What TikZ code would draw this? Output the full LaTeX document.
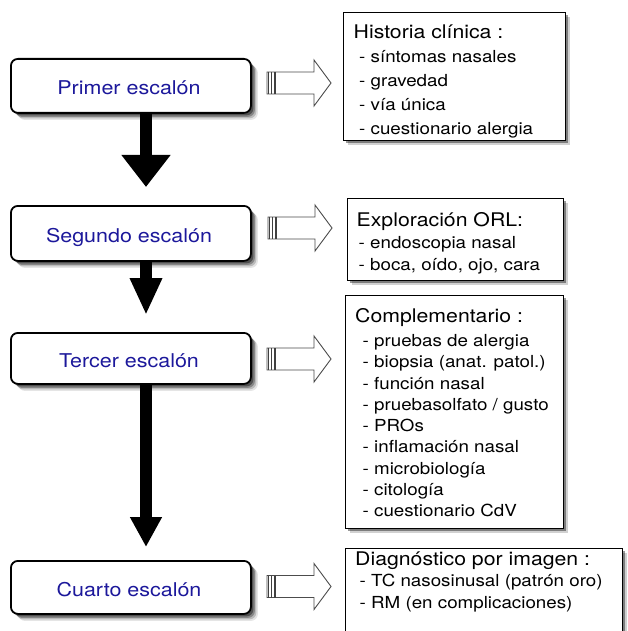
\documentclass[tikz,border=0pt]{standalone}
\usepackage{graphicx}
\usepackage{fontspec}
\setmainfont{TeX Gyre Heros}
\usetikzlibrary{arrows.meta,shadows}
\definecolor{stepblue}{RGB}{28,24,155}
\newcommand{\wx}[1]{\scalebox{1.13}[1]{#1}}
\newcommand{\hollowarrow}[1]{%
  \begin{scope}[shift={(#1)}]
    \draw[harrowline] (0,-11) -- (47,-11) -- (47,-23) -- (64,0) -- (47,23) -- (47,11) -- (0,11) -- cycle;
    \draw[harrowtail] (1.5,-11) -- (1.5,11) (4.8,-11) -- (4.8,11) (8,-11) -- (8,11);
  \end{scope}}
\tikzset{
  stepbox/.style={draw=black, line width=1.8pt, rounded corners=7pt, fill=white,
    inner sep=0pt, anchor=north west, minimum width=240pt,
    drop shadow={shadow xshift=7pt, shadow yshift=-7pt, fill=black, opacity=0.10},
    drop shadow={shadow xshift=5.5pt, shadow yshift=-5.5pt, fill=black, opacity=0.18},
    drop shadow={shadow xshift=4pt, shadow yshift=-4pt, fill=black, opacity=0.28},
    drop shadow={shadow xshift=2.5pt, shadow yshift=-2.5pt, fill=black, opacity=0.40}},
  steptext/.style={anchor=base, inner sep=0pt, text=stepblue, font=\fontsize{19}{23}\selectfont},
  infobox/.style={draw=black, line width=1.3pt, fill=white, inner sep=0pt, anchor=north west,
    drop shadow={shadow xshift=4pt, shadow yshift=-4pt, fill=black, opacity=0.18},
    drop shadow={shadow xshift=2.5pt, shadow yshift=-2.5pt, fill=black, opacity=0.40}},
  infotitle/.style={anchor=base west, inner sep=0pt, font=\fontsize{18.8}{22}\selectfont},
  infoitem/.style={anchor=base west, inner sep=0pt, font=\fontsize{16.6}{20}\selectfont},
  harrowline/.style={draw=black!70, line width=0.9pt, fill=white, line join=miter},
  harrowtail/.style={draw=black!75, line width=1.2pt},
  downarrow/.style={draw=black, line width=11.5pt}
}
\begin{document}
\begin{tikzpicture}[x=1pt,y=-1pt]
\useasboundingbox (0,0) rectangle (627,631);
\fill[white] (0,0) rectangle (627,631);

% left step boxes
\node[stepbox, minimum height=54pt] (s1) at (10,58) {};
\node[stepbox, minimum height=55pt] (s2) at (10,205) {};
\node[stepbox, minimum height=51pt] (s3) at (10,332) {};
\node[stepbox, minimum height=53pt] (s4) at (10,560) {};
\node[steptext] (s1t) at (129,94.5) {\wx{Primer escalón}};
\node[steptext] (s2t) at (129,242) {\wx{Segundo escalón}};
\node[steptext] (s3t) at (129,367) {\wx{Tercer escalón}};
\node[steptext] (s4t) at (129,596.5) {\wx{Cuarto escalón}};

% black arrows between steps
\coordinate (ax) at (146,0);
\coordinate (t1) at (146,187);
\coordinate (t2) at (146,315);
\coordinate (t3) at (146,547);
\draw[downarrow, -{Triangle[width=47pt,length=32pt]}] (s1.south -| ax) -- (t1);
\draw[downarrow, -{Triangle[width=30pt,length=37pt]}] (s2.south -| ax) -- (t2);
\draw[downarrow, -{Triangle[width=30pt,length=30pt]}] (s3.south -| ax) -- (t3);

% right info boxes
\node[infobox, minimum width=222pt, minimum height=128pt] (r1) at (343,12) {};
\node[infobox, minimum width=216pt, minimum height=82pt] (r2) at (347,198) {};
\node[infobox, minimum width=218pt, minimum height=233pt] (r3) at (345,295) {};
\node[infobox, minimum width=277pt, minimum height=100pt] (r4) at (345,548) {};

% texts box 1
\node[infotitle] (r1a) at (353.5,39) {\wx{Historia clínica :}};
\node[infoitem] (r1b) at (359,63) {\wx{- síntomas nasales}};
\node[infoitem] (r1c) at (359,87) {\wx{- gravedad}};
\node[infoitem] (r1d) at (359,111) {\wx{- vía única}};
\node[infoitem] (r1e) at (359,135) {\wx{- cuestionario alergia}};

% texts box 2
\node[infotitle] (r2a) at (356.5,226.5) {\wx{Exploración ORL:}};
\node[infoitem] (r2b) at (358.5,248) {\wx{- endoscopia nasal}};
\node[infoitem] (r2c) at (358.5,270) {\wx{- boca, oído, ojo, cara}};

% texts box 3
\node[infotitle] (r3a) at (355,322.5) {\wx{Complementario :}};
\node[infoitem] (r3b) at (362.5,346.5) {\wx{- pruebas de alergia}};
\node[infoitem] (r3c) at (362.5,367.75) {\wx{- biopsia (anat. patol.)}};
\node[infoitem] (r3d) at (362.5,389) {\wx{- función nasal}};
\node[infoitem] (r3e) at (362.5,410.25) {\wx{- pruebasolfato / gusto}};
\node[infoitem] (r3f) at (362.5,431.5) {\wx{- PROs}};
\node[infoitem] (r3g) at (362.5,452.75) {\wx{- inflamación nasal}};
\node[infoitem] (r3h) at (362.5,474) {\wx{- microbiología}};
\node[infoitem] (r3i) at (362.5,495.25) {\wx{- citología}};
\node[infoitem] (r3j) at (362.5,516.5) {\wx{- cuestionario CdV}};

% texts box 4
\node[infotitle] (r4a) at (355,565) {\wx{Diagnóstico por imagen :}};
\node[infoitem] (r4b) at (359.5,586.5) {\wx{- TC nasosinusal (patrón oro)}};
\node[infoitem] (r4c) at (359.5,608) {\wx{- RM (en complicaciones)}};

% hollow arrows from steps to info boxes
\coordinate (h1) at (267,83);
\coordinate (h2) at (268,228);
\coordinate (h3) at (267,359);
\coordinate (h4) at (267,586.5);
\hollowarrow{h1}
\hollowarrow{h2}
\hollowarrow{h3}
\hollowarrow{h4}
\end{tikzpicture}
\end{document}
